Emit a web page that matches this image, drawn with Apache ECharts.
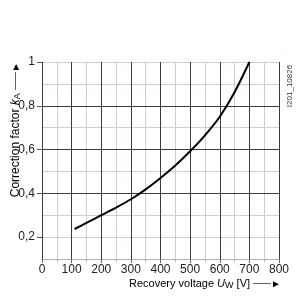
<!DOCTYPE html>
<html>
<head>
<meta charset="utf-8">
<script src="https://cdn.jsdelivr.net/npm/echarts@6/dist/echarts.min.js"></script>
<style>html,body{margin:0;padding:0;background:#fff}#c{width:300px;height:300px}</style>
</head>
<body>
<div id="c"></div>
<script>
const voltage = [110, 150, 200, 250, 300, 350, 400, 450, 500, 550, 600, 650, 700];
const correctionFactor = [0.237, 0.265, 0.300, 0.335, 0.373, 0.418, 0.470, 0.527, 0.592, 0.665, 0.750, 0.862, 1.000];
const yLabelValues = [0.2, 0.4, 0.6, 0.8, 1.0];
const xAxisTitle = ['Recovery voltage ', 'U', 'W', ' [V] '];
const yAxisTitle = ['Correction factor ', 'k', 'A', ' '];
const arrowLine = '——';
const arrowHead = '►';
const figureId = 'I201_10826';

const FONT = 'Liberation Sans, Arial, sans-serif';
const LIGHT = '#c6d0dc';
const DARK = '#3c3c3c';
const AXIS = '#a9b2bc';

// plot area: y from 0.1 (bottom) to 1.0 (top)
const TOP = 62, BOTTOM = 41, H = 300 - TOP - BOTTOM;
const perUnit = H / 0.9;
const bottom2 = 300 - TOP - perUnit; // grid that spans 0..1 with same scale

const chart = echarts.init(document.getElementById('c'), null, {renderer: 'canvas'});
function richStyles(fs) {
  return {
    n: {fontSize: fs, fontFamily: FONT, color: '#222'},
    i: {fontSize: fs, fontFamily: FONT, color: '#222', fontStyle: 'italic'},
    s: {fontSize: 9, fontFamily: FONT, color: '#222', padding: [4, 0, 0, 0]},
    l: {fontSize: 9, fontFamily: FONT, color: '#222'},
    h: {fontSize: 10, fontFamily: FONT, color: '#222'}
  };
}
function richText(parts) {
  return '{n|' + parts[0] + '}{i|' + parts[1] + '}{s|' + parts[2] + '}{n|' + parts[3] + '}{l|' + arrowLine + '}{h|' + arrowHead + '}';
}

chart.setOption({
  animation: false,
  backgroundColor: '#fff',
  grid: [
    {left: 42, top: TOP, right: 21, bottom: BOTTOM},
    {left: 42, top: TOP, right: 21, bottom: bottom2}
  ],
  xAxis: [{
    gridIndex: 0, type: 'value', min: 0, max: 800, interval: 100,
    axisLine: {show: true, lineStyle: {color: AXIS, width: 1}},
    axisTick: {show: true, inside: false, length: 4, lineStyle: {color: '#666'}},
    minorTick: {show: true, splitNumber: 2, length: 3, lineStyle: {color: AXIS}},
    axisLabel: {margin: 5, fontSize: 12, fontFamily: FONT, color: '#222'},
    splitLine: {show: true, lineStyle: {color: DARK, width: 1}},
    minorSplitLine: {show: true, lineStyle: {color: LIGHT, width: 1}},
    z: 2
  }, {
    gridIndex: 1, type: 'value', min: 0, max: 800, show: false
  }],
  yAxis: [{
    gridIndex: 0, type: 'value', min: 0.1, max: 1, interval: 0.1,
    axisLine: {show: true, lineStyle: {color: AXIS, width: 1}},
    axisTick: {show: false},
    axisLabel: {show: false},
    splitLine: {show: true, lineStyle: {color: LIGHT, width: 1}},
    z: 1
  }, {
    gridIndex: 1, type: 'value', min: 0, max: 1, interval: 0.2,
    axisLine: {show: false},
    axisTick: {show: true, inside: false, length: 5, customValues: yLabelValues, lineStyle: {color: '#555'}},
    axisLabel: {margin: 7, fontSize: 12, fontFamily: FONT, color: '#222', customValues: yLabelValues,
      formatter: v => (Math.abs(v - 1) < 1e-9 ? '1' : v.toFixed(1).replace('.', ','))},
    splitLine: {show: true, showMinLine: false, showMaxLine: false, lineStyle: {color: DARK, width: 1}},
    z: 3
  }],
  graphic: [
    {type: 'text', x: 281, y: 284, style: {text: richText(xAxisTitle), rich: richStyles(11), align: 'right', verticalAlign: 'middle'}},
    {type: 'text', x: 16, y: 62, rotation: Math.PI / 2, style: {text: richText(yAxisTitle), rich: richStyles(12), align: 'right', verticalAlign: 'middle'}},
    {type: 'text', x: 290, y: 86, rotation: Math.PI / 2, style: {text: figureId, fontSize: 8, fontFamily: FONT, fill: '#333', align: 'center', verticalAlign: 'middle'}}
  ],
  series: [{
    type: 'line',
    xAxisIndex: 0, yAxisIndex: 0,
    data: voltage.map((v, i) => [v, correctionFactor[i]]),
    smooth: 0.3,
    symbol: 'none',
    lineStyle: {color: '#000', width: 2},
    z: 5
  }]
});
</script>
</body>
</html>
